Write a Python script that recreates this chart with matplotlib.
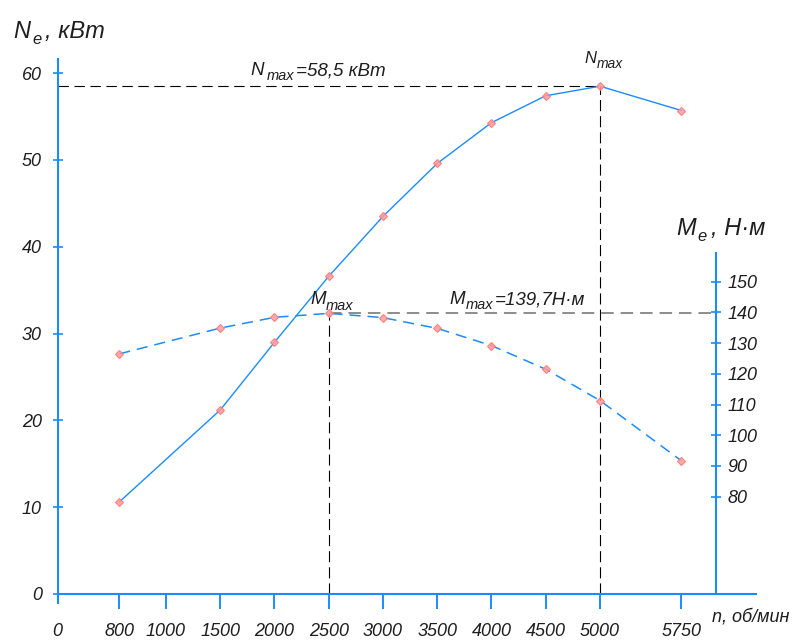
import numpy as np
import matplotlib
matplotlib.use('Agg')
import matplotlib.pyplot as plt

plt.rcParams['font.family'] = ['Liberation Sans', 'DejaVu Sans']
plt.rcParams['font.style'] = 'italic'
plt.rcParams['lines.scale_dashes'] = False

# данные
n = [800, 1500, 2000, 2500, 3000, 3500, 4000, 4500, 5000, 5750]
Ne = [10.6, 21.2, 29.0, 36.6, 43.5, 49.6, 54.3, 57.4, 58.5, 55.7]
Me = [126.5, 134.9, 138.4, 139.7, 138.3, 134.8, 129.2, 121.5, 111.3, 91.7]
n_ticks = [0, 800, 1000, 1500, 2000, 2500, 3000, 3500, 4000, 4500, 5000, 5750]
ne_ticks = [0, 10, 20, 30, 40, 50, 60]
me_ticks = [80, 90, 100, 110, 120, 130, 140, 150]
n_N, Nmax = 5000, 58.5
n_M, Mmax = 2500, 139.7

blue = '#1a8cff'
txt = '#1e1e1e'

# неравномерная шкала оборотов (как на исходном графике)
rpm_k = [0, 800, 1000, 20000]
pos_k = [0, 1.139, 2.0, 40.0]
fwd = lambda x: np.interp(x, rpm_k, pos_k)
inv = lambda p: np.interp(p, pos_k, rpm_k)

W, H = 798, 641
fig = plt.figure(figsize=(W / 100, H / 100), dpi=100)
ax = fig.add_axes([0.07206, 0.0598, 0.8753, 0.8477])
ax.set_xscale('function', functions=(fwd, inv))
ax.set_xlim(0, 6438)
ax.set_ylim(-1, 61.6)

for s in ['top', 'right']:
    ax.spines[s].set_visible(False)
for s in ['left', 'bottom']:
    ax.spines[s].set_color(blue)
    ax.spines[s].set_linewidth(1.5)
ax.spines['bottom'].set_position(('data', 0))

ax.set_xticks(n_ticks)
ax.set_xticklabels([str(v) for v in n_ticks])
ax.tick_params(axis='x', direction='out', length=11, width=1.4, color=blue,
               pad=10, labelsize=13, labelcolor=txt)
ax.xaxis.get_major_ticks()[0].tick1line.set_visible(False)
ax.set_yticks(ne_ticks)
ax.tick_params(axis='y', direction='inout', length=6.5, width=1.2, color=blue,
               pad=8, labelsize=13, labelcolor=txt)

ax2 = ax.twinx()
ax2.set_ylim(45.48, 222.43)
for s in ['top', 'left', 'bottom']:
    ax2.spines[s].set_visible(False)
ax2.spines['right'].set_position(('axes', 0.9432))
ax2.spines['right'].set_bounds(48.3, 159.3)
ax2.spines['right'].set_color(blue)
ax2.spines['right'].set_linewidth(1.5)
ax2.set_yticks(me_ticks)
ax2.tick_params(axis='y', direction='inout', length=6.5, width=1.2, color=blue,
                pad=5, labelsize=13, labelcolor=txt)

# кривые
ax.plot(n, Ne, color=blue, lw=1.0, zorder=3)
ax.plot(n, Ne, 'D', ms=4.5, mfc='#ff9d9d', mec='#ff7373', mew=0.8, alpha=0.85, zorder=4)
ax2.plot(n, Me, color=blue, lw=1.1, ls=(0, (8, 5)), zorder=3)
ax2.plot(n, Me, 'D', ms=4.5, mfc='#ff9d9d', mec='#ff7373', mew=0.8, alpha=0.85, zorder=4)

# линии максимумов
ax.hlines(Nmax, 0, n_N, colors='k', lw=0.8, ls=(0, (7.5, 4)), zorder=2)
ax.vlines(n_N, 0, Nmax, colors='k', lw=0.8, ls=(0, (8, 3.6)), zorder=2)
ne_at_M = ax.transData.inverted().transform(ax2.transData.transform((n_M, Mmax)))[1]
ax.vlines(n_M, 0, ne_at_M, colors='k', lw=0.8, ls=(0, (8, 3.6)), zorder=2)
x_spine = ax2.transData.inverted().transform(
    ax2.transAxes.transform((0.9432, 0)))[0]
ax2.hlines(Mmax, n_M, x_spine, colors='#6e6e6e', lw=1.1, ls=(0, (9, 5)), zorder=2)

# подписи с индексами (координаты в пикселях от левого верхнего угла)
rend = fig.canvas.get_renderer()

def put(x, y, s, size):
    t = fig.text(x / W, 1 - y / H, s, fontsize=size, color=txt, va='baseline')
    return t.get_window_extent(rend).x1

def label(x, y, main, sub, rest, size, subsize, drop, gap=1.5, gap2=1):
    x1 = put(x, y, main, size)
    x2 = put(x1 + gap, y + drop, sub, subsize)
    if rest:
        put(x2 + gap2, y, rest, size)

label(13, 38, 'N', 'e', ', кВт', 17, 12, 6, gap=2, gap2=4)
label(676, 235, 'M', 'e', ', Н·м', 17, 12, 6, gap=2, gap2=4)
label(250, 75, 'N', 'max', '=58,5 кВт', 13.5, 10.5, 5, gap=3, gap2=2)
label(584, 63, 'N', 'max', '', 12, 10, 5, gap=1)
label(310, 304, 'M', 'max', '', 13.5, 10.5, 6, gap=0)
label(449, 304.5, 'M', 'max', '=139,7Н·м', 13.5, 10.5, 5, gap=1, gap2=2)
put(712, 622, 'n, об/мин', 13)

fig.savefig('out.png', dpi=100)
